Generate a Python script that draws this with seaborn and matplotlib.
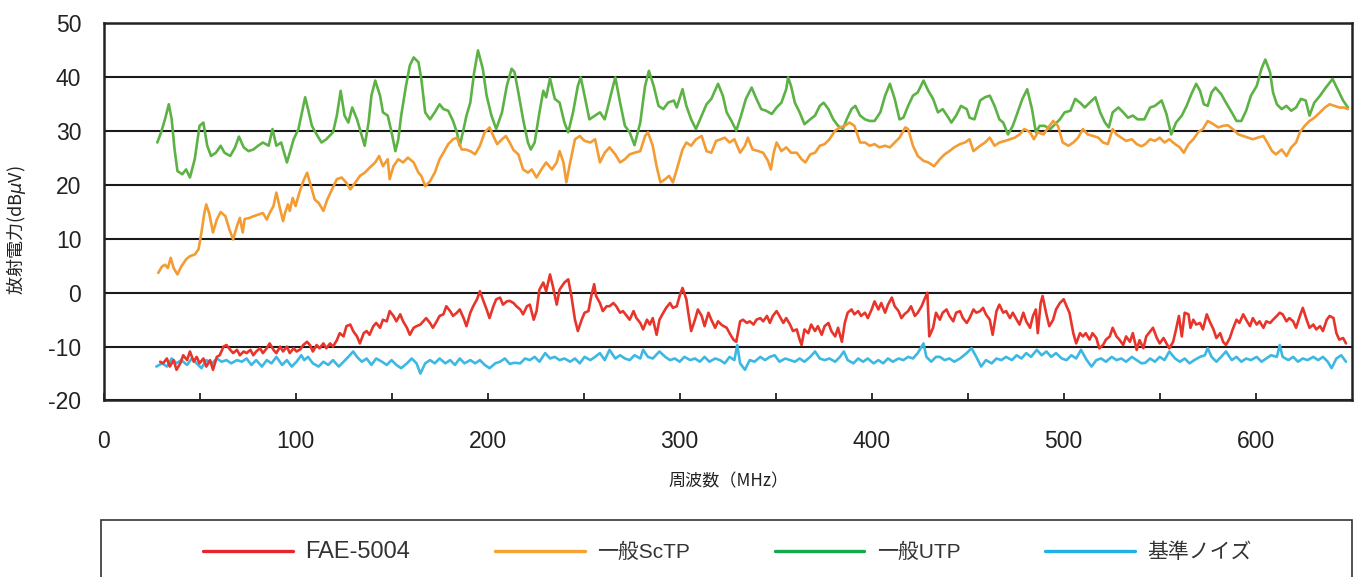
import numpy as np
import pandas as pd
import matplotlib
matplotlib.use('Agg')
import matplotlib.pyplot as plt
import seaborn as sns
from matplotlib.lines import Line2D
from matplotlib.patches import Rectangle

SERIES = ['FAE-5004', '一般ScTP', '一般UTP', '基準ノイズ']
COLORS = ['#E8352B', '#F39C33', '#5DB246', '#3DB8E3']
LEGEND_COLORS = ['#E5262E', '#F7A12E', '#16A94B', '#21B1E9']
X_TICKS = [0, 100, 200, 300, 400, 500, 600]
X_MINOR = [50, 150, 250, 350, 450, 550]
Y_TICKS = [-20, -10, 0, 10, 20, 30, 40, 50]

# (frequency MHz, level dBuV)
UTP = [(28,27.9),(30,29.8),(32,32.2),(34,35.0),(35.5,32.2),(37,26.6),(38.5,22.6),(41,22.0),(43,22.9),(45,21.4),
       (47.5,24.8),(50,31.0),(52,31.6),(54,27.3),(56,25.4),(58.5,26.0),(61,27.3),(63,26.0),(66,25.4),(68.5,27.0),
       (70.5,29.0),(73,27.0),(75.5,26.3),(78,26.6),(80.5,27.3),(83,27.9),(86,27.3),(88,30.4),(90,27.3),(92.5,27.9),
       (95.5,24.2),(97,26.0),(99,28.5),(101.5,30.4),(105,36.3),(106.5,34.1),(108.5,31.0),(111,29.4),(113.5,27.9),
       (116,28.5),(119.5,29.8),(121.5,32.9),(123.5,37.5),(125.5,32.9),(127.5,31.6),(129.5,34.4),(132,32.2),
       (134.5,29.1),(136,27.3),(138,31.6),(139.5,36.6),(141.5,39.4),(144,36.6),(145.5,33.5),(148,32.9),(150,29.8),
       (152,26.3),(153.5,28.5),(155,32.9),(157.5,38.4),(159.5,42.2),(161.5,43.7),(164,42.8),(165.5,39.7),
       (167.5,33.5),(170,32.2),(172.5,33.5),(175,35.0),(177,34.1),(179.5,33.8),(182,31.9),(184,29.8),(185.5,27.3),
       (187.5,30.4),(189,32.9),(191,35.3),(193,40.9),(195,45.0),(197.5,41.6),(199.5,36.6),(202,32.9),(204.5,30.4),
       (207.5,33.5),(210,38.4),(212.5,41.6),(214,41.0),(216,37.2),(218.5,32.2),(221,27.9),(222.5,26.6),(224.5,27.9),
       (227,33.5),(229,37.5),(230.5,36.3),(232.5,39.8),(235,36.0),(237.5,35.3),(240,31.6),(242,29.8),(244.5,33.5),
       (247,38.4),(248.5,40.0),(250.5,36.6),(253,32.2),(256,32.9),(258.5,33.5),(261,32.2),(263,35.0),(264.5,37.2),
       (266.5,40.0),(269,35.3),(271.5,31.0),(274,29.8),(276.5,27.4),(279.5,31.6),(282,38.4),(284,41.2),(286.5,38.4),
       (289,34.7),(291.5,34.1),(294,35.3),(297,35.7),(298.5,34.4),(301.5,37.8),(303.5,34.7),(306,32.2),(308.5,30.4),
       (311.5,32.9),(314,35.0),(316.5,36.0),(320,38.8),(322.5,36.6),(324.5,33.5),(327,31.9),(329.5,30.1),(332,32.9),
       (334.5,36.0),(337.5,38.1),(340,36.0),(342.5,34.1),(345,33.8),(348,33.2),(350.5,34.4),(353,35.3),(355.5,37.8),
       (356.5,40.0),(358,38.4),(360,35.3),(362.5,33.5),(365,31.3),(368,32.2),(370.5,32.9),(373,34.7),(375,35.3),
       (377.5,34.1),(380,32.2),(382.5,31.0),(385,30.4),(387,32.2),(389.5,34.1),(391.5,34.7),(394,32.9),(396.5,32.2),
       (399,31.9),(401.5,31.9),(404.5,33.5),(407,36.6),(409.5,38.8),(412,36.0),(414.5,32.2),(416.5,32.5),(419,34.7),
       (421.5,36.6),(424,37.2),(427,39.4),(429.5,37.5),(432,36.0),(434.5,33.5),(437,34.1),(440,32.5),(441.5,31.6),
       (444,32.9),(446.5,34.7),(449.5,34.1),(451,32.5),(453.5,32.2),(456.5,35.7),(459,36.3),(461.5,36.6),(464,34.7),
       (466.5,32.2),(468.5,31.6),(471,29.4),(473.5,31.0),(476,33.5),(478.5,36.0),(481,37.8),(483.5,34.1),(485.5,29.8),
       (487.5,31.0),(490,31.0),(493,30.4),(495.5,31.3),(498,32.2),(500.5,33.5),(503.5,33.8),(506,36.0),(508.5,35.3),
       (511,34.4),(513.5,35.3),(516.5,36.3),(519,33.5),(521.5,31.6),(523.5,30.7),(525.5,33.5),(528.5,34.4),(531,33.5),
       (533.5,32.5),(536,32.9),(538.5,32.2),(542,32.2),(545,34.4),(547.5,34.7),(551,35.7),(553.5,33.2),(556,29.4),
       (558.5,31.6),(561.5,32.9),(564,34.7),(566.5,36.9),(569,38.8),(571,37.5),(573,35.0),(575,34.7),(577,37.2),
       (579,38.1),(582,36.9),(584.5,35.3),(587.5,33.5),(590,31.9),(592.5,31.9),(595,33.8),(597.5,36.6),(600.5,38.4),
       (603,41.6),(605,43.3),(607.5,40.9),(609,37.2),(611,35.0),(613.5,34.1),(616,34.7),(618.5,33.8),(621,34.4),
       (623.5,36.0),(626,35.7),(628,32.9),(630.5,35.3),(633.5,36.6),(636.5,38.1),(640,39.7),(643,37.5),(645.5,35.7),
       (648,34.4)]

SCTP = [(28.5,3.7),(30.5,4.9),(32,5.2),(33.5,4.6),(35,6.5),(36.5,4.6),(38.5,3.4),(40.5,4.9),(43,6.2),(45,6.8),
        (47.5,7.1),(49.5,8.1),(51,11.2),(52.5,14.8),(53.5,16.4),(55,14.8),(57,11.2),(59,13.6),(61,15.0),(63.5,14.2),
        (65.5,11.8),(67.5,9.9),(69.5,12.4),(71,13.9),(72.5,11.2),(73.5,13.7),(76,13.9),(78,14.2),(80.5,14.5),
        (83,14.8),(85,13.6),(86.5,14.8),(88.5,16.1),(90,18.6),(92,15.5),(93.5,13.3),(94.5,14.8),(96,16.4),(97,15.2),
        (98.5,17.6),(100,16.1),(102,18.6),(104,20.7),(106,22.3),(108.5,19.2),(110,17.3),(112,16.7),(114.5,15.2),
        (116.5,17.3),(119,19.2),(121.5,21.1),(124,21.4),(126.5,20.4),(128.5,19.2),(131,20.4),(133.5,21.7),(136,22.3),
        (138.5,23.2),(141.5,24.2),(143.5,25.4),(145.5,23.5),(148,24.8),(149,21.1),(151,23.5),(153.5,24.8),(156,24.2),
        (158.5,25.1),(161.5,24.2),(164,22.3),(165.5,21.7),(167.5,19.8),(170,20.7),(172.5,22.3),(175,24.8),(177,26.0),
        (179.5,27.6),(182,28.5),(184,28.8),(186.5,26.6),(188.5,26.6),(191,26.3),(193.5,25.7),(196,27.3),(198.5,29.8),
        (201,30.7),(203,29.1),(205,27.6),(207.5,28.5),(209.5,29.1),(211.5,27.9),(213.5,26.5),(216,25.7),(218.5,22.9),
        (221,22.3),(223,22.9),(225.5,21.4),(228,22.9),(230.5,24.2),(233.5,22.9),(236,24.2),(237.5,26.3),(239.5,24.2),
        (241,20.5),(243,24.2),(245.5,28.5),(248,29.1),(250.5,28.2),(253.5,27.9),(256,28.5),(258.5,24.2),(261,26.0),
        (263.5,27.0),(266.5,25.7),(269,24.2),(271.5,24.8),(274,25.7),(276.5,26.0),(279.5,26.3),(282,29.1),(283.5,29.8),
        (286,27.3),(288,23.5),(290,20.5),(292.5,21.1),(294.5,21.7),(296.5,20.5),(299,23.5),(301.5,26.6),(303.5,27.9),
        (306,27.3),(308.5,28.5),(311.5,29.1),(314,26.3),(316.5,26.0),(319,28.2),(321.5,28.5),(323.5,28.8),(326,27.9),
        (328.5,28.5),(331.5,26.0),(334,27.3),(335.5,28.8),(338,26.6),(341,26.3),(343.5,26.0),(346,24.5),(347.5,22.9),
        (349,26.0),(350.5,27.9),(353,26.3),(355.5,27.0),(358,26.0),(361,26.0),(363.5,24.8),(365.5,24.2),(368,25.7),
        (370.5,26.0),(373,27.3),(375.5,27.6),(378,28.5),(381,30.1),(383.5,30.7),(386,31.0),(388.5,31.6),(391,31.0),
        (394,27.9),(396.5,27.9),(399,27.3),(401.5,27.6),(404,27.0),(407,27.3),(409.5,27.0),(412,27.9),(414.5,28.8),
        (417.5,30.7),(419,30.4),(421.5,27.3),(424,25.4),(427,24.5),(429.5,24.2),(432.5,23.5),(435.5,24.8),(438,25.7),
        (440.5,26.3),(443,27.0),(446,27.6),(448.5,27.9),(451,28.5),(453,26.3),(456.5,27.3),(459,27.9),(461.5,28.8),
        (464,27.3),(466.5,27.9),(469.5,28.2),(472,28.5),(474.5,28.8),(477,29.4),(479.5,30.4),(482.5,29.8),(484.5,28.5),
        (486.5,29.8),(489.5,29.4),(492,30.7),(494.5,31.9),(497,31.0),(499.5,27.9),(502.5,27.3),(505,27.9),(507.5,28.8),
        (510,30.4),(512.5,29.4),(515.5,29.1),(518,28.8),(520.5,27.9),(523,27.6),(525.5,30.4),(527.5,29.4),(530,28.8),
        (532.5,28.2),(535.5,28.5),(538,27.6),(540.5,27.2),(542.5,27.6),(545,28.5),(547.5,28.2),(550,28.8),(552.5,27.9),
        (555,28.5),(558,27.6),(560.5,27.0),(562.5,26.0),(565,27.6),(567.5,28.5),(570,29.8),(572.5,30.4),(575,31.9),
        (578,31.3),(580.5,30.7),(583,31.0),(585.5,31.1),(588,30.4),(591,29.4),(593.5,29.1),(596,28.8),(598.5,28.5),
        (601,28.8),(604,29.1),(606.5,27.6),(608.5,26.3),(610.5,25.7),(613.5,26.6),(616,25.4),(618.5,27.0),(621,27.9),
        (623,29.8),(625.5,31.0),(628,31.9),(630.5,32.5),(633.5,33.5),(636,34.4),(638.5,35.0),(641,34.7),(643.5,34.4),
        (646,34.4),(648,34.1)]

FAE = [(29.5,-12.8),(31,-13.1),(33,-12.2),(34.5,-13.7),(36.5,-12.5),(38,-14.3),(40,-13.1),(41.5,-11.6),(43.5,-12.5),
       (45,-10.9),(47,-12.8),(48.5,-11.9),(50,-13.1),(52,-12.2),(53.5,-13.7),(55.5,-12.5),(57,-14.3),(59,-11.9),
       (60.5,-11.6),(62.5,-10.0),(64,-9.7),(66,-10.6),(67.5,-11.2),(69.5,-10.6),(71,-11.6),(73,-10.9),(74.5,-11.2),
       (76.5,-10.6),(78,-11.6),(79.5,-10.9),(81.5,-10.3),(83,-11.2),(85,-10.3),(86.5,-9.4),(88.5,-10.6),(90,-11.2),
       (92,-10.0),(93.5,-10.9),(95.5,-10.0),(97,-11.2),(99,-10.3),(100.5,-10.9),(102.5,-10.5),(104,-9.7),(106,-9.1),
       (107.5,-9.7),(109,-10.9),(111,-9.7),(112.5,-10.3),(114.5,-9.4),(116,-10.3),(118,-9.4),(119.5,-10.0),
       (121.5,-8.8),(123,-7.5),(125,-8.1),(126.5,-6.2),(128.5,-5.9),(130,-7.1),(132,-8.1),(133.5,-9.4),(135.5,-7.5),
       (137,-7.1),(138.5,-7.8),(140.5,-6.2),(142,-5.6),(144,-6.5),(145.5,-5.0),(147.5,-5.3),(149,-3.4),(151,-4.3),
       (152.5,-5.3),(154.5,-4.0),(156,-5.3),(158,-6.5),(159.5,-7.8),(161.5,-6.5),(163,-6.2),(165,-5.9),(166.5,-5.3),
       (168,-4.7),(170,-5.6),(171.5,-6.5),(173.5,-5.3),(175,-4.3),(177,-4.0),(178.5,-2.5),(180.5,-3.4),(182,-4.3),
       (184,-3.7),(185.5,-3.1),(187.5,-4.7),(189,-6.2),(191,-3.7),(192.5,-2.5),(194.5,-1.2),(196,0.3),(197.5,-1.2),
       (199.5,-3.1),(201,-4.7),(203,-2.5),(204.5,-1.2),(206.5,-0.9),(208,-2.2),(210,-1.6),(211.5,-1.5),(213.5,-1.9),
       (215,-2.5),(217,-3.1),(218.5,-4.0),(220.5,-2.5),(222,-2.2),(224,-5.0),(225.5,-3.4),(227,0.6),(229,1.9),
       (230.5,0.3),(232.5,3.4),(234,1.2),(236,-2.2),(237.5,0.6),(240,1.9),(242,2.5),(243.5,-0.3),(245.5,-5.0),
       (247,-7.1),(249,-5.0),(250.5,-3.7),(252.5,-3.4),(254,-0.6),(255.5,1.6),(256.5,-0.6),(258.5,-1.9),(260,-3.4),
       (262,-2.5),(263.5,-2.5),(265.5,-1.9),(267,-2.5),(269,-3.7),(270.5,-3.4),(272.5,-4.3),(274,-5.0),(276,-3.4),
       (277.5,-4.7),(279.5,-5.6),(281,-6.8),(283,-5.0),(284.5,-5.9),(286,-4.7),(288,-7.8),(289.5,-5.0),(291.5,-3.7),
       (293,-2.8),(295,-1.9),(296.5,-2.8),(298.5,-2.5),(300,-0.6),(301.5,0.9),(303.5,-1.2),(304.5,-3.7),(306,-7.1),
       (308,-5.0),(309.5,-3.1),(311.5,-4.3),(313,-6.2),(315,-3.7),(316.5,-5.0),(318.5,-6.5),(320,-5.3),(322,-6.0),
       (324.5,-6.5),(326,-7.5),(328,-8.7),(329.5,-9.1),(331.5,-5.3),(333,-5.0),(335,-5.6),(336.5,-5.3),(338.5,-5.9),
       (340,-5.0),(342,-4.7),(343.5,-5.3),(345.5,-4.3),(347,-5.6),(348.5,-4.3),(350.5,-3.4),(352,-4.3),(354,-5.6),
       (355.5,-4.7),(357.5,-5.9),(359,-7.1),(361,-6.8),(362.5,-8.7),(363.5,-9.7),(365,-6.8),(367,-7.5),(368.5,-5.9),
       (370.5,-7.1),(372,-6.2),(374,-7.8),(375.5,-6.2),(377.5,-5.6),(379,-7.1),(381,-8.1),(382.5,-6.5),(384.5,-9.1),
       (386,-5.6),(387.5,-3.7),(389.5,-3.1),(391,-4.0),(393,-3.4),(394.5,-4.3),(396.5,-3.7),(398,-4.7),(400,-3.1),
       (401.5,-1.6),(403.5,-3.1),(405,-1.9),(407,-3.7),(408.5,-2.2),(410.5,-0.9),(412,-2.5),(414,-3.4),(415.5,-4.7),
       (417,-4.0),(419,-3.4),(420.5,-2.5),(422.5,-4.3),(424,-3.7),(426,-2.5),(427.5,-1.2),(429,0.0),(430,-8.1),
       (432,-6.5),(433.5,-3.7),(435.5,-5.0),(437,-3.7),(439,-3.1),(440.5,-4.3),(442.5,-5.3),(444,-3.7),(446,-3.4),
       (447.5,-4.7),(449.5,-5.6),(451,-4.7),(453,-3.1),(454.5,-3.7),(456.5,-3.4),(458,-2.8),(459.5,-4.0),(461.5,-5.0),
       (463,-7.8),(465,-3.4),(466.5,-2.2),(468.5,-3.7),(470,-3.4),(472,-4.7),(473.5,-3.7),(475.5,-5.0),(477,-5.9),
       (479,-3.7),(480.5,-5.3),(482.5,-6.5),(484,-4.3),(485.5,-3.1),(486.5,-7.5),(488,-1.9),(489,-0.6),(491,-4.0),
       (492.5,-6.2),(494.5,-5.0),(496,-3.1),(498,-1.9),(500,-1.2),(501.5,-2.5),(503,-3.7),(505,-7.5),(506.5,-9.4),
       (508.5,-7.5),(510,-8.1),(511.5,-7.5),(513.5,-8.7),(515,-7.5),(517,-8.4),(518.5,-10.3),(520.5,-9.7),(522,-8.7),
       (524,-8.1),(525.5,-6.5),(527.5,-8.1),(529,-8.7),(531,-9.7),(532.5,-8.1),(534.5,-9.1),(536,-7.5),(538,-10.6),
       (539.5,-8.8),(541.5,-10.3),(543,-8.1),(545,-7.2),(546.5,-6.5),(548.5,-8.4),(550,-9.4),(552,-8.4),(553.5,-9.4),
       (555,-10.3),(557,-9.1),(558.5,-6.8),(560,-4.3),(561.5,-8.1),(563,-3.7),(565,-4.0),(566,-6.5),(567.5,-5.0),
       (569,-5.9),(571,-5.6),(572.5,-6.8),(574.5,-4.0),(576,-5.3),(578,-6.8),(579.5,-8.4),(581.5,-7.5),(583,-9.1),
       (584.5,-9.7),(586.5,-8.4),(588,-6.8),(590,-5.0),(591.5,-5.6),(593.5,-4.0),(595,-5.0),(597,-6.2),(598.5,-4.7),
       (600.5,-5.9),(602,-5.3),(604,-6.5),(605.5,-5.3),(607.5,-5.6),(609,-5.0),(611,-4.3),(612.5,-3.7),(614,-4.0),
       (616,-5.3),(617.5,-4.7),(619.5,-5.3),(621,-6.5),(623,-4.3),(624.5,-2.8),(626.5,-5.0),(628,-6.5),(630,-5.9),
       (631.5,-6.8),(633.5,-6.2),(635,-7.1),(637,-5.0),(638.5,-4.3),(640.5,-4.7),(642,-7.5),(643.5,-8.7),(645.5,-8.4),
       (647,-9.4)]

NOISE = [(27.5,-13.7),(30.5,-13.1),(33,-13.7),(35.5,-12.2),(38,-13.1),(40.5,-12.5),(43.5,-13.4),(46,-12.2),
         (48.5,-13.1),(51,-14.0),(53.5,-12.5),(56.5,-13.1),(59,-12.2),(61.5,-12.8),(64,-12.5),(66.5,-13.1),
         (69.5,-12.5),(72,-12.8),(74.5,-12.2),(77,-13.4),(79.5,-12.5),(82.5,-13.7),(85,-12.5),(87.5,-13.1),(90,-11.9),
         (93,-13.4),(95.5,-12.5),(98,-13.7),(100.5,-12.8),(103,-11.6),(104.5,-12.5),(106.5,-11.9),(109,-13.1),
         (112,-13.7),(114.5,-12.8),(117,-13.4),(119.5,-12.5),(122.5,-13.7),(125,-12.8),(127.5,-11.9),(130,-10.9),
         (132,-11.9),(134.5,-12.8),(137,-12.2),(139.5,-13.4),(142,-12.2),(145,-12.8),(147.5,-13.4),(150,-12.5),
         (152.5,-13.4),(155,-14.0),(158,-13.1),(160.5,-12.2),(163,-13.1),(165,-15.0),(167.5,-13.1),(170,-12.5),
         (172.5,-13.1),(175,-12.2),(178,-13.1),(180.5,-12.5),(183,-13.4),(185.5,-12.2),(188,-13.1),(191,-12.5),
         (193.5,-13.1),(196,-12.5),(198.5,-13.4),(201,-14.0),(204,-13.1),(206.5,-12.8),(209,-12.2),(211.5,-13.2),
         (214,-13.0),(217,-13.1),(219.5,-12.2),(222,-12.5),(224.5,-11.9),(227,-12.8),(230,-11.2),(232.5,-12.2),
         (235,-11.9),(237.5,-12.5),(240,-12.2),(243,-12.8),(245.5,-12.2),(248,-13.1),(250.5,-11.9),(253.5,-12.5),
         (256,-11.9),(258.5,-11.2),(261,-12.5),(263.5,-10.6),(266.5,-12.2),(269,-11.6),(271.5,-12.2),(274,-12.5),
         (276.5,-11.6),(279.5,-12.2),(281,-10.6),(283.5,-11.9),(286,-12.2),(289.5,-10.9),(292.5,-11.9),(295,-12.5),
         (297.5,-12.2),(300,-12.8),(302.5,-11.9),(305.5,-12.5),(308,-12.2),(310.5,-12.8),(313,-11.9),(315.5,-12.8),
         (318.5,-12.2),(321,-12.5),(323.5,-13.1),(326,-11.9),(328.5,-12.5),(330,-9.7),(331.5,-13.1),(334,-14.3),
         (336.5,-12.5),(339,-12.8),(342,-11.9),(344.5,-12.5),(347,-11.9),(349.5,-11.6),(352,-12.8),(355,-12.2),
         (357.5,-12.5),(360,-12.8),(362.5,-12.2),(365,-12.8),(368,-11.9),(370.5,-10.9),(373,-12.2),(375.5,-12.5),
         (378,-12.2),(381,-12.8),(383.5,-11.9),(385.5,-10.9),(387.5,-12.5),(390.5,-13.1),(393,-12.2),(395.5,-12.8),
         (398,-12.2),(401,-13.1),(403.5,-12.5),(406,-13.1),(408.5,-12.2),(411,-12.8),(414,-12.2),(416.5,-12.5),
         (419,-11.9),(421.5,-12.2),(424,-11.2),(427,-9.4),(428.5,-11.9),(431,-12.8),(433.5,-11.9),(435.5,-11.9),
         (438,-12.5),(440.5,-12.2),(443,-12.8),(446,-12.2),(449.5,-11.2),(452,-10.3),(454.5,-11.9),(457,-13.7),
         (459.5,-12.5),(462.5,-13.1),(465,-12.2),(467.5,-12.5),(470,-11.9),(473,-12.5),(475.5,-11.6),(478,-12.2),
         (480.5,-11.2),(483,-11.9),(486,-10.6),(488.5,-11.6),(491,-10.9),(493.5,-11.9),(496,-11.2),(499,-12.2),
         (501.5,-12.5),(504,-11.6),(506.5,-12.2),(509,-10.6),(512,-12.5),(514.5,-13.7),(517,-12.5),(519.5,-12.2),
         (522,-12.8),(525,-11.9),(527.5,-12.5),(530,-12.2),(532.5,-12.8),(535.5,-11.9),(538,-12.5),(540.5,-13.1),
         (542.5,-13.0),(545,-12.2),(547.5,-12.8),(550,-11.9),(552.5,-12.5),(555,-10.9),(558,-12.2),(560.5,-12.8),
         (563,-12.2),(565.5,-13.1),(568,-12.5),(571,-11.9),(573.5,-11.6),(575,-10.3),(577,-11.9),(579.5,-12.8),
         (582,-11.9),(584.5,-10.9),(587.5,-12.5),(590,-11.9),(592.5,-12.8),(595,-12.2),(597.5,-12.5),(600.5,-11.9),
         (603,-12.8),(605.5,-12.2),(608,-11.6),(611,-11.9),(612.5,-9.7),(614,-11.9),(617,-12.5),(619.5,-11.9),
         (622,-12.8),(624.5,-12.2),(627,-12.5),(630,-11.9),(632.5,-12.5),(635,-11.9),(637.5,-12.8),(639.5,-14.0),
         (642,-12.2),(644.5,-11.6),(647,-12.8)]

sns.set_theme(style='white')
plt.rcParams['font.family'] = ['Liberation Sans', 'Noto Sans CJK JP', 'DejaVu Sans']
plt.rcParams['axes.unicode_minus'] = False

rows = []
for name, pts in zip(SERIES, [FAE, SCTP, UTP, NOISE]):
    for f, v in pts:
        rows.append((name, f, v))
df = pd.DataFrame(rows, columns=['series', 'freq', 'level'])
palette = dict(zip(SERIES, COLORS))

fig = plt.figure(figsize=(13.55, 5.77), dpi=100)
ax = fig.add_axes([0.0764, 0.3059, 0.9212, 0.6534])

draw_order = ['基準ノイズ', 'FAE-5004', '一般UTP', '一般ScTP']
for name in draw_order:
    sub = df[df['series'] == name]
    sns.lineplot(data=sub, x='freq', y='level', color=palette[name], lw=1.9,
                 ax=ax, estimator=None, sort=False, legend=False, zorder=3)

ax.set_xlim(0, 650)
ax.set_ylim(-20, 50)
ax.set_xticks(X_TICKS)
ax.set_xticks(X_MINOR, minor=True)
ax.set_yticks(Y_TICKS)
ax.set_yticklabels([str(v) for v in Y_TICKS])
ax.set_xticklabels([str(v) for v in X_TICKS])
ax.tick_params(axis='x', which='both', direction='in', length=5, width=1.3,
               color='#222222', labelsize=16.5, pad=21, bottom=True, labelcolor='#222222')
ax.tick_params(axis='y', length=0, labelsize=16.5, pad=16, labelcolor='#222222')
ax.yaxis.grid(True, color='#1a1a1a', lw=1.5)
ax.xaxis.grid(False)
ax.set_axisbelow(True)
for sp in ax.spines.values():
    sp.set_visible(True)
    sp.set_color('#222222')
    sp.set_linewidth(1.8)

ax.set_xlabel('周波数（MHz）', fontsize=12.3, family=['Noto Sans CJK JP', 'DejaVu Sans'], color='#222222')
ax.xaxis.set_label_coords(0.501, -0.19)
ax.set_ylabel('放射電力(dB$\\mu$V)', fontsize=13, family=['Noto Sans CJK JP', 'DejaVu Sans'], color='#222222')
ax.yaxis.set_label_coords(-0.0605, 0.452)

fig.add_artist(Rectangle((0.0749, -0.1), 0.9229, 0.1988, transform=fig.transFigure,
                         fill=False, ec='#333333', lw=1.2))
handles = [Line2D([0], [0], color=c, lw=2.4) for c in LEGEND_COLORS]
leg = fig.legend(handles, SERIES, loc='center', bbox_to_anchor=(0.5369, 0.0430), ncol=4,
                 frameon=False, prop={'family': ['Liberation Sans', 'Noto Sans CJK JP'], 'size': 15},
                 handlelength=4.3, handletextpad=0.6, columnspacing=4.07)
for t in leg.get_texts():
    t.set_color('#333333')
leg.get_texts()[0].set_fontsize(17)

fig.savefig('out.png', dpi=100)
